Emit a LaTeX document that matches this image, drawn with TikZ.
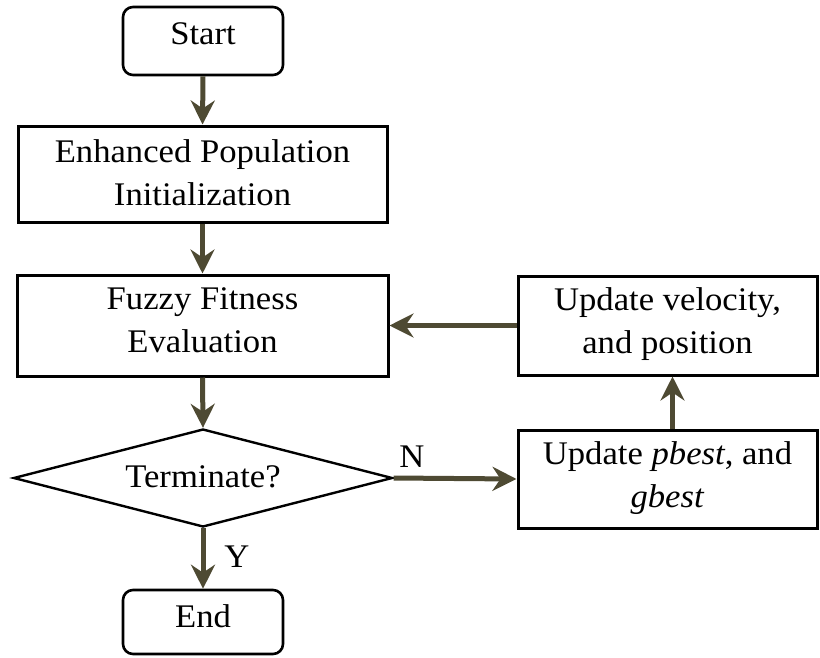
\documentclass[tikz,border=0pt]{standalone}
\usepackage{fontspec}
\setmainfont{Liberation Serif}[FakeStretch=1.05]
\usetikzlibrary{shapes.geometric,arrows.meta}
\definecolor{flowarrow}{HTML}{4E4A33}
\tikzset{
  x=1pt,y=-1pt,
  every node/.style={font=\fontsize{33}{43}\selectfont},
  procbox/.style={draw=black,line width=3pt,rectangle,align=center,inner sep=0pt,text height=23pt},
  twoline/.style={text height=66pt},
  termbox/.style={procbox,rounded corners=10pt,line width=2.6pt},
  decbox/.style={draw=black,line width=2.4pt,diamond,inner sep=0pt,aspect=3.87,text height=23pt,text depth=5pt},
  flow/.style={draw=flowarrow,line width=5pt,-{Stealth[length=24pt,width=24pt,inset=8pt]}},
  lbl/.style={inner sep=0pt}
}
\begin{document}
\begin{tikzpicture}
\useasboundingbox (0,0) rectangle (820,657);
% main column
\node[termbox,minimum width=160pt,minimum height=68pt,text depth=17pt] (start) at (203,41) {Start};
\node[procbox,twoline,minimum width=369pt,minimum height=96pt,text depth=4pt] (init) at (202.5,174) {Enhanced Population\\Initialization};
\node[procbox,twoline,minimum width=371pt,minimum height=101pt,text depth=13pt] (fit) at (202.5,325.5) {Fuzzy Fitness\\Evaluation};
\node[decbox,minimum width=379pt,minimum height=98pt] (term) at (203,478) {Terminate?};
\node[termbox,minimum width=160pt,minimum height=64pt,text depth=13pt] (stop) at (203,622) {End};
% update loop
\node[procbox,twoline,minimum width=299pt,minimum height=99pt,text depth=11pt] (vel) at (667.5,325.5) {Update velocity,\\and position};
\node[procbox,twoline,minimum width=299pt,minimum height=98pt,text depth=10pt] (best) at (667.5,479) {Update \textit{pbest}, and\\\textit{gbest}};
% connectors
\draw[flow] (start.south) -- (init.north);
\draw[flow] (init.south) -- (fit.north);
\draw[flow] (fit.south) -- (term.north);
\draw[flow] (term.south) -- (stop.north);
\draw[flow] (term.east) -- (best.west);
\draw[flow] ([xshift=5pt]best.north) -- ([xshift=5pt]vel.south);
\draw[flow] (vel.west) -- (fit.east);
% branch labels
\node[lbl] (nlab) at (412,457) {N};
\node[lbl] (ylab) at (237,557) {Y};
\end{tikzpicture}
\end{document}
